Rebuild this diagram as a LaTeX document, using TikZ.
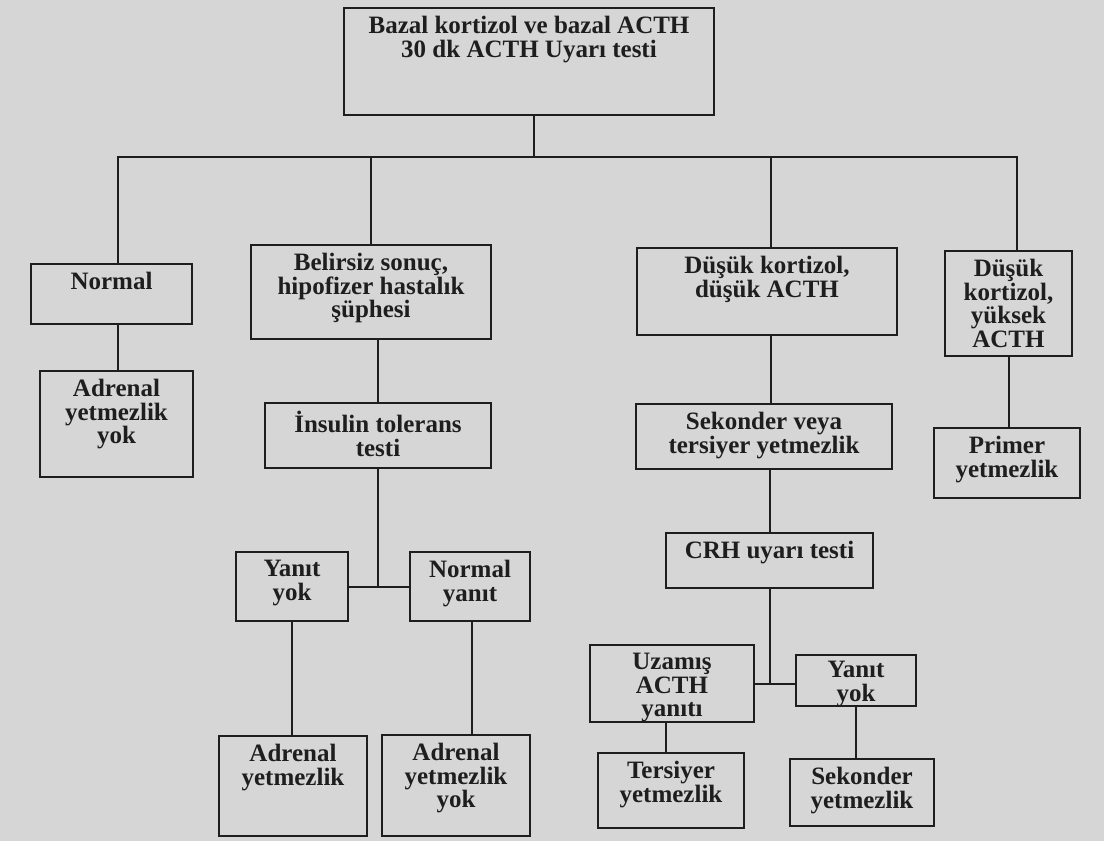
\documentclass[tikz,border=0pt]{standalone}
\usepackage{fontspec}
\setmainfont{Liberation Serif}
\usetikzlibrary{positioning}
\definecolor{screengray}{RGB}{214,214,214}
\definecolor{inkline}{RGB}{30,30,30}

\begin{document}
\begin{tikzpicture}[
    x=0.5pt, y=-0.5pt,
    stepbox/.style={
        draw=inkline,
        line width=1pt,
        inner sep=0pt,
        outer sep=0pt
    },
    boxtext/.style={
        anchor=north,
        align=center,
        inner sep=4pt,
        text=inkline,
        font=\bfseries\fontsize{12.5}{11.8}\selectfont
    },
    line/.style={draw=inkline, line width=1pt}
]
    \fill[screengray] (0,0) rectangle (1104,841);
    \useasboundingbox (0,0) rectangle (1104,841);

    \node[stepbox, minimum width=185pt, minimum height=53.5pt, label={[boxtext]north:{Bazal kortizol ve bazal ACTH\\30 dk ACTH Uyarı testi}}] (basal) at (529,61.5) {};
    \coordinate (bar) at (534,157);

    \node[stepbox, minimum width=80.5pt, minimum height=30pt, label={[boxtext]north:Normal}] (normal) at (111.5,294) {};
    \node[stepbox, minimum width=76.5pt, minimum height=53pt, label={[boxtext]north:{Adrenal\\yetmezlik\\yok}}] (noinsuf) at (116.5,424) {};

    \node[stepbox, minimum width=120pt, minimum height=47pt, label={[boxtext]north:{Belirsiz sonuç,\\hipofizer hastalık\\şüphesi}}] (unclear) at (371,292) {};
    \node[stepbox, minimum width=113pt, minimum height=32.5pt, label={[boxtext]north:{İnsulin tolerans\\testi}}] (itt) at (378,435.5) {};
    \node[stepbox, minimum width=56pt, minimum height=34.5pt, label={[boxtext]north:{Yanıt\\yok}}] (ittnone) at (292,586.5) {};
    \node[stepbox, minimum width=60pt, minimum height=34.5pt, label={[boxtext]north:{Normal\\yanıt}}] (ittnormal) at (470,586.5) {};
    \node[stepbox, minimum width=74pt, minimum height=50pt, label={[boxtext]north:{Adrenal\\yetmezlik}}] (adrinsuf) at (293,786) {};
    \node[stepbox, minimum width=74pt, minimum height=50.5pt, label={[boxtext]north:{Adrenal\\yetmezlik\\yok}}] (adrnone) at (456,785.5) {};

    \node[stepbox, minimum width=130pt, minimum height=43.5pt, label={[boxtext]north:{Düşük kortizol,\\düşük ACTH}}] (lowlow) at (767,291.5) {};
    \node[stepbox, minimum width=128pt, minimum height=32.5pt, label={[boxtext]north:{Sekonder veya\\tersiyer yetmezlik}}] (secter) at (764,436.5) {};
    \node[stepbox, minimum width=103.5pt, minimum height=27.5pt, label={[boxtext]north:{CRH uyarı testi}}] (crh) at (769.5,560.5) {};
    \node[stepbox, minimum width=82pt, minimum height=38.5pt, label={[boxtext]north:{Uzamış\\ACTH\\yanıtı}}] (crhlong) at (672,683.5) {};
    \node[stepbox, minimum width=60pt, minimum height=25.5pt, label={[boxtext, inner sep=3pt]north:{Yanıt\\yok}}] (crhnone) at (856,680.5) {};
    \node[stepbox, minimum width=73pt, minimum height=37.5pt, label={[boxtext]north:{Tersiyer\\yetmezlik}}] (tertiary) at (671,790.5) {};
    \node[stepbox, minimum width=72pt, minimum height=33.5pt, label={[boxtext]north:{Sekonder\\yetmezlik}}] (secondary) at (862,792.5) {};

    \node[stepbox, minimum width=63.5pt, minimum height=52.5pt, label={[boxtext]north:{Düşük\\kortizol,\\yüksek\\ACTH}}] (lowhigh) at (1008.5,303.5) {};
    \node[stepbox, minimum width=73pt, minimum height=35pt, label={[boxtext]north:{Primer\\yetmezlik}}] (primary) at (1007,463) {};

    \draw[line] (basal.south -| bar) -- (bar);
    \draw[line] ([xshift=3pt]normal.north) |- (bar) -| ([xshift=4pt]lowhigh.north);
    \draw[line] (unclear.north) -- (unclear.north |- bar);
    \draw[line] ([xshift=2pt]lowlow.north) -- ([xshift=2pt]lowlow.north |- bar);

    \draw[line] ([xshift=3pt]normal.south) -- ([xshift=3pt]normal.south |- noinsuf.north);

    \draw[line] (itt.north |- unclear.south) -- (itt.north);
    \draw[line] (itt.south) -- (itt.south |- ittnone.east);
    \draw[line] (ittnone.east) -- (ittnormal.west);
    \draw[line] (ittnone.south) -- (ittnone.south |- adrinsuf.north);
    \draw[line] ([xshift=1pt]ittnormal.south) -- ([xshift=1pt]ittnormal.south |- adrnone.north);

    \draw[line] ([xshift=2pt]lowlow.south) -- ([xshift=2pt]lowlow.south |- secter.north);
    \draw[line] (crh.north |- secter.south) -- (crh.north);
    \draw[line] (crh.south) -- (crh.south |- crhlong.east);
    \draw[line] (crhlong.east) -- (crhlong.east -| crhnone.west);
    \draw[line] ([xshift=-3pt]crhlong.south) -- ([xshift=-3pt]crhlong.south |- tertiary.north);
    \draw[line] (crhnone.south) -- (crhnone.south |- secondary.north);

    \draw[line] (lowhigh.south) -- (lowhigh.south |- primary.north);
\end{tikzpicture}
\end{document}
